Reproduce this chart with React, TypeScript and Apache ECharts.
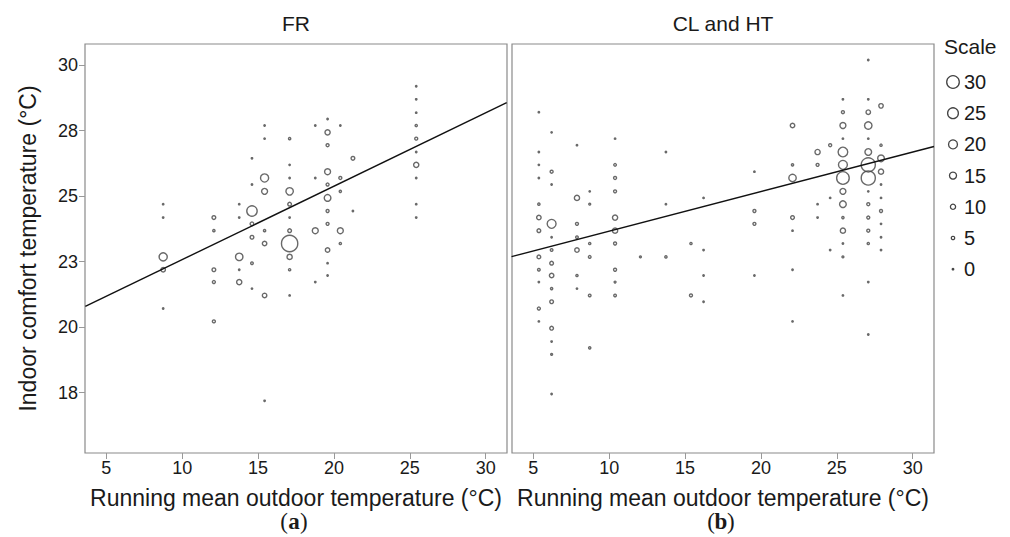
import React, { useEffect, useRef } from "react";
import * as echarts from "echarts";

// x (running mean outdoor temp), y (indoor comfort temp), count (scale)
const frPoints: number[][] = [
  [8.75, 24.69, 0], [8.75, 24.18, 0], [8.75, 22.68, 18], [8.75, 22.19, 8], [8.75, 20.71, 0],
  [12.09, 24.18, 6], [12.09, 23.68, 2], [12.09, 22.19, 6], [12.09, 21.72, 4], [12.09, 20.22, 4],
  [13.76, 24.69, 0], [13.76, 24.18, 0], [13.76, 22.68, 16], [13.76, 22.19, 0], [13.76, 21.72, 10],
  [14.6, 26.44, 0], [14.6, 25.44, 0], [14.6, 24.43, 24], [14.6, 23.94, 6], [14.6, 23.43, 6], [14.6, 22.44, 3], [14.6, 21.47, 0],
  [15.43, 27.69, 0], [15.43, 27.19, 0], [15.43, 25.69, 18], [15.43, 25.18, 12], [15.43, 23.68, 2], [15.43, 23.19, 8], [15.43, 21.21, 8], [15.43, 17.19, 0],
  [17.08, 27.19, 2], [17.08, 26.19, 0], [17.08, 25.69, 0], [17.08, 25.18, 16], [17.08, 24.69, 6], [17.08, 24.18, 0], [17.08, 23.68, 6], [17.08, 23.19, 40], [17.08, 22.68, 10], [17.08, 22.19, 2], [17.08, 21.21, 0],
  [18.77, 27.69, 0], [18.77, 25.69, 0], [18.77, 23.68, 12], [18.77, 21.72, 0],
  [19.58, 27.94, 0], [19.58, 27.43, 10], [19.58, 26.94, 4], [19.58, 25.93, 12], [19.58, 25.44, 4], [19.58, 24.93, 14], [19.58, 24.43, 4], [19.58, 23.94, 4], [19.58, 22.94, 8], [19.58, 22.44, 0], [19.58, 21.97, 0],
  [20.42, 27.69, 0], [20.42, 25.69, 4], [20.42, 25.18, 2], [20.42, 23.68, 12], [20.42, 23.19, 2],
  [21.25, 26.44, 6], [21.25, 24.43, 0],
  [25.42, 29.19, 0], [25.42, 28.69, 0], [25.42, 28.18, 0], [25.42, 27.69, 2], [25.42, 27.19, 4], [25.42, 26.68, 0], [25.42, 26.19, 10], [25.42, 25.69, 0], [25.42, 24.69, 0], [25.42, 24.18, 0],
];

const clhtPoints: number[][] = [
  [5.37, 28.2, 0], [5.37, 26.68, 0], [5.37, 26.19, 0], [5.37, 25.69, 0], [5.37, 24.69, 2], [5.37, 24.18, 8], [5.37, 23.68, 6], [5.37, 22.68, 6], [5.37, 22.19, 3], [5.37, 21.72, 0], [5.37, 20.71, 4], [5.37, 20.22, 0],
  [6.21, 27.43, 0], [6.21, 25.93, 4], [6.21, 25.44, 0], [6.21, 23.94, 20], [6.21, 23.43, 0], [6.21, 22.94, 3], [6.21, 22.44, 6], [6.21, 21.97, 8], [6.21, 21.47, 2], [6.21, 20.97, 6], [6.21, 19.96, 6], [6.21, 19.45, 0], [6.21, 18.96, 1], [6.21, 17.45, 0],
  [7.88, 26.94, 0], [7.88, 24.93, 10], [7.88, 23.94, 4], [7.88, 23.43, 3], [7.88, 22.94, 8], [7.88, 21.97, 2], [7.88, 21.47, 0],
  [8.72, 25.18, 0], [8.72, 24.69, 1], [8.72, 23.19, 2], [8.72, 22.68, 3], [8.72, 21.21, 3], [8.72, 19.21, 2],
  [10.39, 27.19, 0], [10.39, 26.19, 3], [10.39, 25.69, 4], [10.39, 25.18, 4], [10.39, 24.18, 10], [10.39, 23.68, 10], [10.39, 23.19, 4], [10.39, 22.19, 4], [10.39, 21.72, 1], [10.39, 21.21, 3],
  [12.06, 22.68, 1],
  [13.74, 26.68, 0], [13.74, 24.69, 0], [13.74, 22.68, 2],
  [15.39, 23.19, 2], [15.39, 21.21, 4],
  [16.22, 24.93, 0], [16.22, 22.94, 0], [16.22, 21.97, 0], [16.22, 20.97, 0],
  [19.57, 25.93, 0], [19.57, 24.43, 4], [19.57, 23.94, 4], [19.57, 21.97, 0],
  [22.08, 27.69, 8], [22.08, 26.19, 2], [22.08, 25.69, 16], [22.08, 24.18, 6], [22.08, 23.68, 0], [22.08, 22.19, 0], [22.08, 20.22, 0],
  [23.73, 26.68, 10], [23.73, 26.19, 4], [23.73, 24.69, 0], [23.73, 24.18, 0],
  [24.56, 26.94, 4], [24.56, 24.93, 0], [24.56, 22.94, 0],
  [25.4, 28.69, 0], [25.4, 28.2, 4], [25.4, 27.69, 12], [25.4, 27.19, 0], [25.4, 26.68, 22], [25.4, 26.19, 20], [25.4, 25.69, 30], [25.4, 25.18, 12], [25.4, 24.69, 14], [25.4, 24.18, 2], [25.4, 23.68, 10], [25.4, 23.19, 0], [25.4, 22.68, 1], [25.4, 21.21, 0],
  [27.07, 30.19, 0], [27.07, 28.69, 0], [27.07, 28.2, 8], [27.07, 27.69, 16], [27.07, 27.19, 0], [27.07, 26.68, 14], [27.07, 26.19, 34], [27.07, 25.69, 34], [27.07, 25.18, 0], [27.07, 24.69, 4], [27.07, 24.18, 4], [27.07, 23.68, 4], [27.07, 23.19, 2], [27.07, 21.72, 0], [27.07, 19.72, 0],
  [27.91, 28.44, 8], [27.91, 26.94, 2], [27.91, 26.44, 14], [27.91, 25.93, 10], [27.91, 25.44, 0], [27.91, 24.93, 0], [27.91, 24.43, 4], [27.91, 23.94, 0], [27.91, 23.43, 0], [27.91, 22.94, 0],
];

// regression line endpoints
const frLine: number[][] = [[3.62, 20.79], [31.38, 28.56]];
const clhtLine: number[][] = [[3.57, 22.69], [31.4, 26.89]];

const xTicks = [5, 10, 15, 20, 25, 30];
const yTicks = [17.5, 20, 22.5, 25, 27.5, 30];
const legendValues = [30, 25, 20, 15, 10, 5, 0];
const panelTitles = ["FR", "CL and HT"];
const panelTags = ["a", "b"];

const X_MIN = 3.6, X_MAX = 31.4, Y_MIN = 15.2, Y_MAX = 30.8;
const STROKE = "#444444";
const TEXT = "#1a1a1a";
const FONT = "Liberation Sans, Arial, sans-serif";
const SERIF = "Liberation Serif, serif";

const sizeOf = (c: number) => (c <= 0 ? 2.8 : 1.5 + c / 2.7);

const toItems = (pts: number[][]) =>
  pts.map(([x, y, c]) => ({
    value: [x, y, c],
    symbolSize: sizeOf(c),
    itemStyle:
      c <= 0
        ? { color: STROKE, borderWidth: 0 }
        : { color: "rgba(0,0,0,0)", borderColor: STROKE, borderWidth: 1.4 },
  }));

export default function App() {
  const ref = useRef<HTMLDivElement>(null);
  useEffect(() => {
    if (!ref.current) return;
    const chart = echarts.init(ref.current, null, { renderer: "svg" });
    const grids = [
      { left: 85, top: 44, width: 422, height: 409 },
      { left: 512, top: 44, width: 422, height: 409 },
    ];
    const xAxisBase = (i: number) => ({
      type: "value",
      gridIndex: i,
      min: X_MIN,
      max: X_MAX,
      name: "Running mean outdoor temperature (°C)",
      nameLocation: "middle",
      nameGap: 33,
      nameTextStyle: { fontSize: 23, color: TEXT, fontFamily: FONT },
      axisLine: { show: false },
      axisTick: { show: true, length: 6, customValues: xTicks, lineStyle: { color: "#999" } },
      axisLabel: { customValues: xTicks, fontSize: 18, color: TEXT, fontFamily: FONT, margin: 6 },
      splitLine: { show: false },
    });
    const legendGraphics: any[] = [
      {
        type: "text",
        x: 944,
        y: 46,
        style: { text: "Scale", fontSize: 21, fill: TEXT, fontFamily: FONT, textVerticalAlign: "middle" },
      },
    ];
    legendValues.forEach((v, i) => {
      const cy = 82 + i * 31.2;
      const s = sizeOf(v);
      legendGraphics.push({
        type: "circle",
        shape: { cx: 953, cy, r: s / 2 },
        style:
          v <= 0
            ? { fill: STROKE, stroke: "none" }
            : { fill: "none", stroke: STROKE, lineWidth: 1.3 },
      });
      legendGraphics.push({
        type: "text",
        x: 964,
        y: cy,
        style: { text: String(v), fontSize: 20, fill: TEXT, fontFamily: FONT, textVerticalAlign: "middle" },
      });
    });
    const titleGraphics = panelTitles.map((t, i) => ({
      type: "text",
      x: grids[i].left + grids[i].width / 2,
      y: 23,
      style: { text: t, fontSize: 21, fill: TEXT, fontFamily: FONT, textAlign: "center", textVerticalAlign: "middle" },
    }));
    const tagGraphics: any[] = [];
    panelTags.forEach((t, i) => {
      const cx = grids[i].left + grids[i].width / 2 - 2;
      const base = { fontSize: 23, fontFamily: SERIF, fill: TEXT, textVerticalAlign: "middle" };
      tagGraphics.push({ type: "text", x: cx - 6, y: 521, style: { ...base, text: "(", textAlign: "right" } });
      tagGraphics.push({ type: "text", x: cx, y: 521, style: { ...base, text: t, fontWeight: "bold", textAlign: "center" } });
      tagGraphics.push({ type: "text", x: cx + 6, y: 521, style: { ...base, text: ")", textAlign: "left" } });
    });

    chart.setOption({
      animation: false,
      backgroundColor: "#ffffff",
      grid: grids.map((g) => ({ ...g, show: true, borderColor: "#8a8a8a", borderWidth: 1.2, backgroundColor: "transparent" })),
      xAxis: [xAxisBase(0), xAxisBase(1)],
      yAxis: [
        {
          type: "value",
          gridIndex: 0,
          min: Y_MIN,
          max: Y_MAX,
          name: "Indoor comfort temperature (°C)",
          nameLocation: "middle",
          nameGap: 46,
          nameTextStyle: { fontSize: 23, color: TEXT, fontFamily: FONT },
          axisLine: { show: false },
          axisTick: { show: true, length: 6, customValues: yTicks, lineStyle: { color: "#999" } },
          axisLabel: {
            customValues: yTicks,
            fontSize: 18,
            color: TEXT,
            fontFamily: FONT,
            margin: 7,
            formatter: (v: number) => String(Math.round(v)),
          },
          splitLine: { show: false },
        },
        {
          type: "value",
          gridIndex: 1,
          min: Y_MIN,
          max: Y_MAX,
          axisLine: { show: false },
          axisTick: { show: false },
          axisLabel: { show: false },
          splitLine: { show: false },
        },
      ],
      series: [
        { type: "scatter", xAxisIndex: 0, yAxisIndex: 0, symbol: "circle", data: toItems(frPoints) },
        { type: "scatter", xAxisIndex: 1, yAxisIndex: 1, symbol: "circle", data: toItems(clhtPoints) },
        {
          type: "line",
          xAxisIndex: 0,
          yAxisIndex: 0,
          data: frLine,
          symbol: "none",
          lineStyle: { color: "#111", width: 1.4 },
        },
        {
          type: "line",
          xAxisIndex: 1,
          yAxisIndex: 1,
          data: clhtLine,
          symbol: "none",
          lineStyle: { color: "#111", width: 1.4 },
        },
      ],
      graphic: [...titleGraphics, ...tagGraphics, ...legendGraphics],
    });
    return () => chart.dispose();
  }, []);
  return <div ref={ref} style={{ position: "absolute", left: 0, top: 0, width: 1010, height: 537 }} />;
}
